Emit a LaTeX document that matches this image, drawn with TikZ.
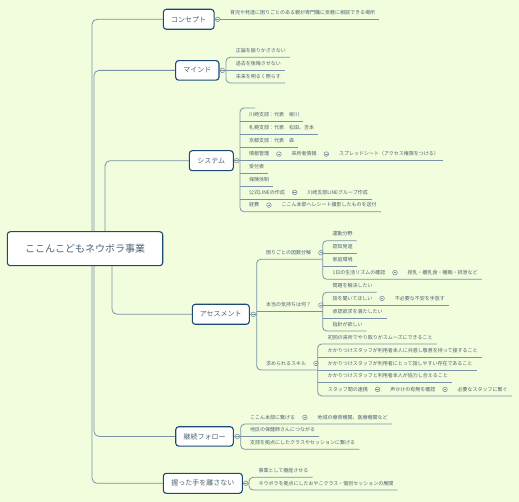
\documentclass[tikz,border=0pt]{standalone}
\usepackage{fontspec}
\setmainfont{Noto Sans CJK JP}
\definecolor{bgcol}{RGB}{242,253,221}
\definecolor{lncol}{RGB}{122,146,166}
\definecolor{txcol}{RGB}{78,98,116}
\definecolor{bdcol}{RGB}{28,74,116}
\newcommand\lf[4]{\node[leaf] (#1) at (#2,#3-4.8) {#4};
  \coordinate (#1e) at ([shift={(4,4.8)}]#1.base east);}
\newcommand\chainlf[3]{\node[circ] (#1c) at ([shift={(9.5,-1.8)}]#1.base east) {};
  \node[leaf] (#2) at ([shift={(12.5,1.8)}]#1c.center) {#3};
  \coordinate (#2e) at ([shift={(4,4.8)}]#2.base east);}
\newcommand\cirlf[1]{\node[circ] (#1c) at ([shift={(9.5,-1.8)}]#1.base east) {};}
\begin{document}
\begin{tikzpicture}[x=1pt,y=-1pt,
  ln/.style={draw=lncol, line width=0.8pt},
  leaf/.style={anchor=base west, inner sep=0pt, font=\fontsize{5}{6}\selectfont, text=txcol},
  topic/.style={draw=bdcol, line width=1.1pt, fill=white, rounded corners=3pt,
    font=\fontsize{7}{8}\selectfont, text=txcol, inner sep=0pt},
  rootbox/.style={topic, font=\fontsize{10}{12}\selectfont},
  circ/.style={circle, draw=lncol, fill=bgcol, line width=0.6pt, minimum size=4.6pt, inner sep=0pt,
    path picture={\draw[lncol, line width=0.5pt] ([xshift=-1.3pt]path picture bounding box.center) -- ([xshift=1.3pt]path picture bounding box.center);}},
]
\fill[bgcol] (0,0) rectangle (519,502);
\useasboundingbox (0,0) rectangle (519,502);

% root and main topics
\node[rootbox, minimum width=155.4pt, minimum height=34pt] (root) at (85,248.7) {ここんこどもネウボラ事業};
\node[topic, minimum width=50.7pt, minimum height=20pt] (concept) at (188.7,19.3) {コンセプト};
\node[topic, minimum width=43.3pt, minimum height=19.6pt] (mind) at (197.3,70.4) {マインド};
\node[topic, minimum width=44pt, minimum height=20pt] (system) at (211.3,160.7) {システム};
\node[topic, minimum width=57pt, minimum height=20pt] (assess) at (220.8,314.3) {アセスメント};
\node[topic, minimum width=57.6pt, minimum height=19.3pt] (follow) at (204.5,436.4) {継続フォロー};
\node[topic, minimum width=79pt, minimum height=20pt] (hold) at (202.8,483.3) {握った手を離さない};

\draw[ln, rounded corners=5] ([xshift=7pt]root.north) |- (concept.west);
\draw[ln, rounded corners=5] ([xshift=9pt]root.north) |- (mind.west);
\draw[ln, rounded corners=5] ([xshift=20pt]root.north) |- (system.west);
\draw[ln, rounded corners=5] ([xshift=27pt]root.south) |- (assess.west);
\draw[ln, rounded corners=5] ([xshift=9pt]root.south) |- (follow.west);
\draw[ln, rounded corners=5] ([xshift=7pt]root.south) |- (hold.west);

% collapse circles of topics
\node[circ] (cC) at (217.7,19.3) {};
\node[circ] (cM) at (222.3,70.4) {};
\node[circ] (cS) at (236.7,160.7) {};
\node[circ] (cA) at (253.3,314.3) {};
\node[circ] (cK) at (237.3,436.4) {};
\node[circ] (cN) at (245.7,483.3) {};
\draw[ln] (concept.east) -- (cC.west);
\draw[ln] (mind.east) -- (cM.west);
\draw[ln] (system.east) -- (cS.west);
\draw[ln] (assess.east) -- (cA.west);
\draw[ln] (follow.east) -- (cK.west);
\draw[ln] (hold.east) -- (cN.west);

% concept
\lf{c1}{230}{19.3}{育児や発達に困りごとのある親が専門職に気軽に相談できる場所}
\draw[ln] (cC.east) -- (c1e);

% mind
\lf{m1}{235.7}{57.3}{正論を振りかざさない}
\lf{m2}{235.7}{70.4}{過去を後悔させない}
\lf{m3}{235.7}{83}{未来を明るく照らす}
\draw[ln, rounded corners=4] (m1e) -- (226,57.3) -- (226,83) -- (m3e);
\draw[ln] (cM.east) -- (m2e);

% system
\coordinate (ystub) at (255,108);
\lf{y1}{249}{121}{川崎支部：代表　柳川}
\lf{y2}{249}{134}{札幌支部：代表　松田、吉本}
\lf{y3}{249}{147.3}{京都支部：代表　森}
\lf{y4}{249}{160.7}{情報管理}
\chainlf{y4}{y4b}{来所者情報}
\chainlf{y4b}{y4d}{スプレッドシート（アクセス権限をつける）}
\lf{y5}{249}{173.3}{受付表}
\lf{y6}{249}{186.3}{保険体制}
\lf{y7}{249}{199}{公式LINEの作成}
\chainlf{y7}{y7b}{川崎支部LINEグループ作成}
\lf{y8}{249}{211.7}{経費}
\chainlf{y8}{y8b}{ここん本部へレシート撮影したものを送付}
\draw[ln, rounded corners=4] (ystub) -- (240,108) -- (240,211.7) -- (y8be);
\draw[ln] (240,121) -- (y1e);
\draw[ln] (cS.east) -- (y4de);
\draw[ln] (240,134) -- (y2e);
\draw[ln] (240,147.3) -- (y3e);
\draw[ln] (240,173.3) -- (y5e);
\draw[ln] (240,186.3) -- (y6e);
\draw[ln] (240,199) -- (y7be);

% assessment
\lf{k0}{266}{259.3}{困りごとの因数分解}\cirlf{k0}
\lf{h0}{266}{311.7}{本当の気持ちは何？}\cirlf{h0}
\lf{q0}{266}{370}{求められるスキル}\cirlf{q0}
\draw[ln, rounded corners=4] (322.7,259.3) -- (256.7,259.3) -- (256.7,370) -- (317.7,370);
\draw[ln] (256.7,311.7) -- (322.7,311.7);
\draw[ln] (cA.east) -- (256.7,314.3);

\lf{k1}{332.3}{240.7}{運動分野}
\lf{k2}{332.3}{253.3}{認知発達}
\lf{k3}{332.3}{266}{家庭環境}
\lf{k4}{332.3}{279.3}{1日の生活リズムの確認}
\chainlf{k4}{k4b}{授乳・離乳食・睡眠・排泄など}
\draw[ln, rounded corners=4] (k1e) -- (322.7,240.7) -- (322.7,279.3) -- (k4be);
\draw[ln] (322.7,253.3) -- (k2e);
\draw[ln] (322.7,266) -- (k3e);

\lf{h1}{332.3}{292.3}{問題を解決したい}
\lf{h2}{332.3}{305}{話を聞いてほしい}
\chainlf{h2}{h2b}{不必要な不安を手放す}
\lf{h3}{332.3}{318.3}{承認欲求を満たしたい}
\lf{h4}{332.3}{331}{指針が欲しい}
\draw[ln, rounded corners=4] (h1e) -- (322.7,292.3) -- (322.7,331) -- (h4e);
\draw[ln] (322.7,305) -- (h2be);
\draw[ln] (322.7,318.3) -- (h3e);

\lf{q1}{327.7}{344}{初回の来所でやり取りがスムーズにできること}
\lf{q2}{327.7}{357.3}{かかりつけスタッフが利用者本人に共感し敬意を持って接すること}
\lf{q3}{327.7}{370}{かかりつけスタッフが利用者にとって話しやすい存在であること}
\lf{q4}{327.7}{382.7}{かかりつけスタッフと利用者本人が協力し合えること}
\lf{q5}{327.7}{396}{スタッフ間の連携}
\chainlf{q5}{q5b}{声かけの有無を確認}
\chainlf{q5b}{q5d}{必要なスタッフに繋ぐ}
\draw[ln, rounded corners=4] (q1e) -- (317.7,344) -- (317.7,396) -- (q5de);
\draw[ln] (317.7,357.3) -- (q2e);
\draw[ln] (317.7,370) -- (q3e);
\draw[ln] (317.7,382.7) -- (q4e);

% follow
\lf{f1}{250}{424}{ここん本部に繋げる}
\chainlf{f1}{f1b}{地域の療育機関、医療機関など}
\lf{f2}{250}{436.4}{地区の保健師さんにつながる}
\lf{f3}{250}{449.3}{支部を拠点にしたクラスやセッションに繋げる}
\draw[ln, rounded corners=4] (f1be) -- (240.7,424) -- (240.7,449.3) -- (f3e);
\draw[ln] (cK.east) -- (f2e);

% hold
\lf{n1}{258.3}{477.3}{事業として機能させる}
\lf{n2}{258.3}{490}{ネウボラを拠点にしたおやこクラス・個別セッションの展開}
\draw[ln, rounded corners=4] (n1e) -- (249,477.3) -- (249,490) -- (n2e);
\draw[ln] (cN.east) -- (249,483.3);
\end{tikzpicture}
\end{document}
